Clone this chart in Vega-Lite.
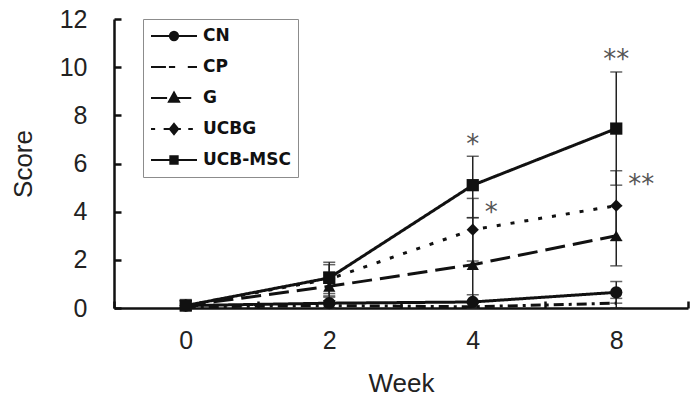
{
  "$schema": "https://vega.github.io/schema/vega-lite/v6.json",
  "width": 574,
  "height": 289,
  "autosize": {"type": "none"},
  "padding": {"left": 114, "top": 19, "right": 6, "bottom": 94},
  "background": "white",
  "datasets": {
    "scores": [
      {"group": "CN", "week": 0, "score": 0.1, "lo": 0, "hi": 0.3},
      {"group": "CN", "week": 2, "score": 0.2, "lo": 0, "hi": 0.45},
      {"group": "CN", "week": 4, "score": 0.25, "lo": 0, "hi": 0.55},
      {"group": "CN", "week": 8, "score": 0.65, "lo": 0.2, "hi": 1.1},
      {"group": "CP", "week": 0, "score": 0.05, "lo": 0, "hi": 0.2},
      {"group": "CP", "week": 2, "score": 0.1, "lo": 0, "hi": 0.3},
      {"group": "CP", "week": 4, "score": 0.05, "lo": 0, "hi": 0.2},
      {"group": "CP", "week": 8, "score": 0.2, "lo": 0, "hi": 0.4},
      {"group": "G", "week": 0, "score": 0.1, "lo": 0, "hi": 0.3},
      {"group": "G", "week": 2, "score": 0.9, "lo": 0.3, "hi": 1.5},
      {"group": "G", "week": 4, "score": 1.8, "lo": 0, "hi": 3.75},
      {"group": "G", "week": 8, "score": 3.0, "lo": 1.75, "hi": 4.25},
      {"group": "UCBG", "week": 0, "score": 0.1, "lo": 0, "hi": 0.3},
      {"group": "UCBG", "week": 2, "score": 1.2, "lo": 0.5, "hi": 1.8},
      {"group": "UCBG", "week": 4, "score": 3.25, "lo": 1.95, "hi": 4.55},
      {"group": "UCBG", "week": 8, "score": 4.25, "lo": 2.8, "hi": 5.7},
      {"group": "UCB-MSC", "week": 0, "score": 0.1, "lo": 0, "hi": 0.35},
      {"group": "UCB-MSC", "week": 2, "score": 1.25, "lo": 0.6, "hi": 1.9},
      {"group": "UCB-MSC", "week": 4, "score": 5.1, "lo": 3.75, "hi": 6.3},
      {"group": "UCB-MSC", "week": 8, "score": 7.45, "lo": 5.1, "hi": 9.8}
    ],
    "starsAbove": [
      {"week": 4, "y": 6.75, "label": "*"},
      {"week": 8, "y": 10.3, "label": "**"}
    ],
    "starsRight": [
      {"week": 4, "y": 3.95, "label": "*"},
      {"week": 8, "y": 5.12, "label": "**"}
    ]
  },
  "config": {
    "view": {"stroke": null},
    "font": "Liberation Sans",
    "axis": {
      "grid": false,
      "domainColor": "#111",
      "domainWidth": 2.5,
      "tickColor": "#111",
      "tickWidth": 2.5,
      "tickSize": -7,
      "labelFont": "Liberation Sans",
      "labelFontSize": 25,
      "labelColor": "#222",
      "titleFont": "Liberation Sans",
      "titleFontSize": 26,
      "titleFontWeight": "normal",
      "titleColor": "#222"
    },
    "axisX": {"labelAngle": 0, "labelPadding": 27, "titlePadding": 17, "tickBand": "extent"},
    "axisY": {"labelPadding": 34, "titlePadding": 23}
  },
  "encoding": {
    "x": {
      "field": "week",
      "type": "ordinal",
      "title": "Week",
      "scale": {"type": "band", "domain": [0, 2, 4, 8], "paddingInner": 0, "paddingOuter": 0}
    }
  },
  "layer": [
    {
      "data": {"name": "scores"},
      "mark": {"type": "errorbar", "color": "#222", "thickness": 1.5, "ticks": {"size": 12, "thickness": 1.5, "color": "#222"}},
      "encoding": {
        "y": {"field": "lo", "type": "quantitative", "title": "Score", "scale": {"domain": [0, 12], "nice": false}, "axis": {"values": [0, 2, 4, 6, 8, 10, 12]}},
        "y2": {"field": "hi"}
      }
    },
    {
      "data": {"name": "scores"},
      "mark": {"type": "line", "color": "#111", "strokeWidth": 3},
      "encoding": {
        "y": {"field": "score", "type": "quantitative", "title": "Score"},
        "strokeDash": {
          "field": "group",
          "type": "nominal",
          "scale": {"domain": ["CN", "CP", "G", "UCBG", "UCB-MSC"], "range": [[1, 0], [10, 5, 3, 5], [20, 8], [4, 10], [1, 0]]},
          "legend": null
        }
      }
    },
    {
      "data": {"name": "scores"},
      "transform": [{"filter": "datum.group !== 'CP'"}],
      "mark": {"type": "point", "filled": true, "color": "#111", "opacity": 1, "size": 150},
      "encoding": {
        "y": {"field": "score", "type": "quantitative", "title": "Score"},
        "shape": {
          "field": "group",
          "type": "nominal",
          "scale": {"domain": ["CN", "G", "UCBG", "UCB-MSC"], "range": ["circle", "triangle-up", "diamond", "square"]},
          "legend": null
        }
      }
    },
    {
      "data": {"name": "scores"},
      "transform": [{"filter": "datum.week === 0"}],
      "mark": {"type": "point", "filled": false, "color": "#111", "strokeWidth": 2, "opacity": 0},
      "encoding": {
        "y": {"field": "score", "type": "quantitative", "title": "Score"},
        "shape": {
          "field": "group",
          "type": "nominal",
          "scale": {
            "domain": ["CN", "CP", "G", "UCBG", "UCB-MSC"],
            "range": [
              "M-1,0H1M0.18,0A0.18,0.18,0,1,1,-0.18,0A0.18,0.18,0,1,1,0.18,0ZM0.12,0A0.12,0.12,0,1,1,-0.12,0A0.12,0.12,0,1,1,0.12,0ZM0.06,0A0.06,0.06,0,1,1,-0.06,0A0.06,0.06,0,1,1,0.06,0ZM0.015,0A0.015,0.015,0,1,1,-0.015,0A0.015,0.015,0,1,1,0.015,0Z",
              "M-1,0H-0.35M-0.22,0H0.05M0.6,0H1",
              "M-1,0H-0.3M0.1,0H0.75M0,-0.24L0.22,0.16L-0.22,0.16ZM0,-0.133L0.132,0.107L-0.132,0.107ZM0,-0.026L0.044,0.054L-0.044,0.054Z",
              "M-1,0H-0.82M-0.45,0H0.3M0.62,0H0.82M0,-0.22L0.18,0L0,0.22L-0.18,0ZM0,-0.132L0.108,0L0,0.132L-0.108,0ZM0,-0.044L0.036,0L0,0.044L-0.036,0Z",
              "M-1,0H1M-0.16,-0.16H0.16V0.16H-0.16ZM-0.1,-0.1H0.1V0.1H-0.1ZM-0.04,-0.04H0.04V0.04H-0.04Z"
            ]
          },
          "legend": {
            "title": null,
            "orient": "none",
            "legendX": 29,
            "legendY": 0,
            "symbolSize": 2116,
            "clipHeight": 20,
            "rowPadding": 11,
            "padding": 7,
            "symbolStrokeColor": "#111",
            "symbolStrokeWidth": 2,
            "labelFont": "DejaVu Sans",
            "labelFontSize": 17,
            "labelFontWeight": "bold",
            "labelColor": "#111",
            "labelOffset": 5,
            "strokeColor": "#8c8c8c",
            "encode": {
              "symbols": {"update": {"stroke": {"value": "#111"}, "strokeWidth": {"value": 2}, "opacity": {"value": 1}}},
              "legend": {"update": {"strokeWidth": {"value": 1.5}}}
            }
          }
        }
      }
    },
    {
      "data": {"name": "starsAbove"},
      "mark": {"type": "text", "font": "DejaVu Sans", "fontSize": 26, "color": "#555", "baseline": "middle"},
      "encoding": {
        "y": {"field": "y", "type": "quantitative", "title": "Score"},
        "text": {"field": "label"}
      }
    },
    {
      "data": {"name": "starsRight"},
      "mark": {"type": "text", "font": "DejaVu Sans", "fontSize": 26, "color": "#555", "baseline": "middle", "align": "left", "dx": 12},
      "encoding": {
        "y": {"field": "y", "type": "quantitative", "title": "Score"},
        "text": {"field": "label"}
      }
    }
  ],
  "resolve": {"scale": {"shape": "independent"}}
}
